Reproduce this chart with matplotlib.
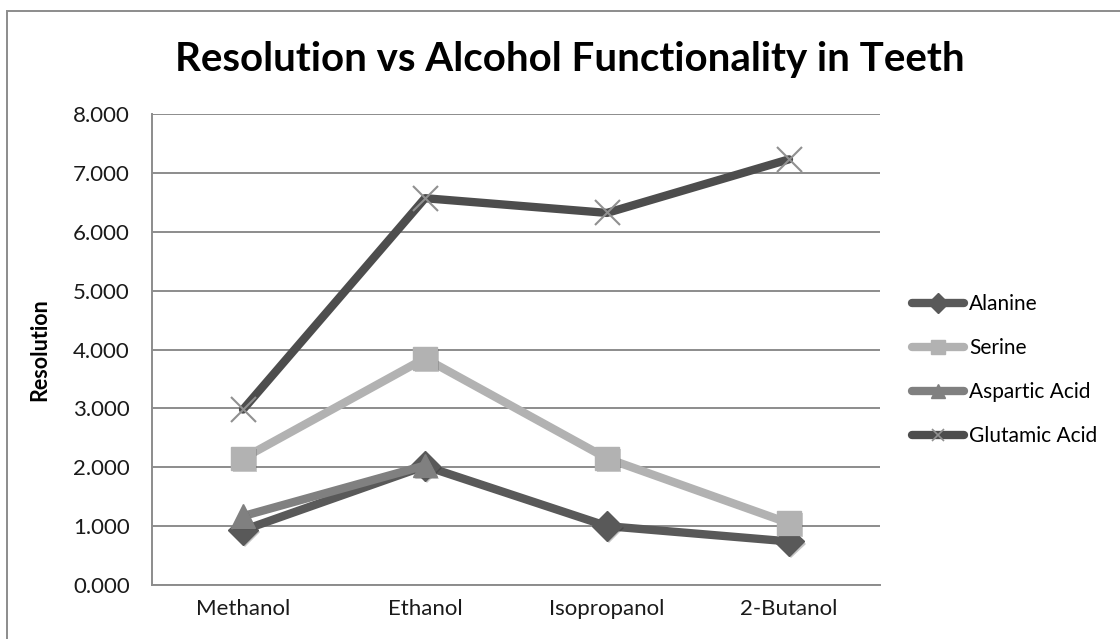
import numpy as np
import matplotlib
matplotlib.use("Agg")
import matplotlib.pyplot as plt
from matplotlib.patches import Rectangle
from matplotlib.lines import Line2D
import matplotlib.patheffects as pe

plt.rcParams['font.family'] = ['Lato', 'DejaVu Sans']

solvents = ["Methanol", "Ethanol", "Isopropanol", "2-Butanol"]
alanine = [0.93, 2.02, 1.00, 0.74]
serine = [2.15, 3.85, 2.15, 1.05]
aspartic_acid = [1.17, 2.03, np.nan, np.nan]
glutamic_acid = [2.98, 6.57, 6.32, 7.23]
y_ticks = [0, 1, 2, 3, 4, 5, 6, 7, 8]

series = [
    ("Alanine", alanine, "#595959", "D", 15),
    ("Serine", serine, "#b2b2b2", "s", 17),
    ("Aspartic Acid", aspartic_acid, "#808080", "^", 17),
    ("Glutamic Acid", glutamic_acid, "#4d4d4d", "x", 18),
]

fig = plt.figure(figsize=(11.2, 6.39), dpi=100)
ax = fig.add_axes([152 / 1120, 1 - 585 / 639, 728 / 1120, 471 / 639])

x = np.arange(len(solvents))
shadow = [pe.SimplePatchShadow(offset=(1.5, -1.5), alpha=0.25), pe.Normal()]
handles = []
for i, (name, vals, color, mk, ms) in enumerate(series):
    ax.plot(x, vals, color=color, lw=6, solid_capstyle="round",
            solid_joinstyle="round", zorder=3 + i)
    if mk == "x":
        ax.plot(x, vals, ls="none", marker="x", ms=ms, mew=1.5,
                mec="#909090", zorder=3 + i, path_effects=shadow)
        h = Line2D([], [], color=color, lw=6, solid_capstyle="round",
                   marker="x", ms=9, mew=1.2, mec="#909090")
    else:
        ax.plot(x, vals, ls="none", marker=mk, ms=ms, mfc=color, mec=color,
                zorder=3 + i, path_effects=shadow)
        h = Line2D([], [], color=color, lw=6, solid_capstyle="round",
                   marker=mk, ms=10, mfc=color, mec=color)
    handles.append(h)

ax.set_xlim(-0.5, len(solvents) - 0.5)
ax.set_ylim(0, 8)
ax.set_yticks(y_ticks)
ax.set_yticklabels([f"{v:.3f}" for v in y_ticks])
ax.set_xticks(x)
ax.set_xticklabels(solvents)
ax.tick_params(axis="both", length=0, labelsize=16, colors="#1a1a1a")
ax.tick_params(axis="y", pad=16)
ax.tick_params(axis="x", pad=10)
ax.yaxis.grid(True, color="#8c8c8c", lw=1.4)
ax.set_axisbelow(True)
for s in ["top", "right"]:
    ax.spines[s].set_visible(False)
for s in ["left", "bottom"]:
    ax.spines[s].set_color("#8c8c8c")
    ax.spines[s].set_linewidth(1.4)

ax.set_ylabel("Resolution", fontsize=15.5, fontweight="bold", labelpad=16)

fig.text(0.5 * (175 + 965) / 1120, 1 - 60 / 639,
         "Resolution vs Alcohol Functionality in Teeth",
         ha="center", va="center", fontsize=29, fontweight="bold")

leg = fig.legend(handles, [s[0] for s in series], loc="upper left",
                 bbox_to_anchor=(912 / 1120, 1 - 294 / 639), frameon=False,
                 fontsize=15, handlelength=2.5, handletextpad=0.25,
                 labelspacing=1.15, borderaxespad=0, borderpad=0)

fig.patches.append(Rectangle((7 / 1120, -0.05), 1.2, 1.05 - 11 / 639,
                             transform=fig.transFigure, fill=False,
                             edgecolor="#8c8c8c", lw=1.4))

fig.savefig("out.png", dpi=100)
